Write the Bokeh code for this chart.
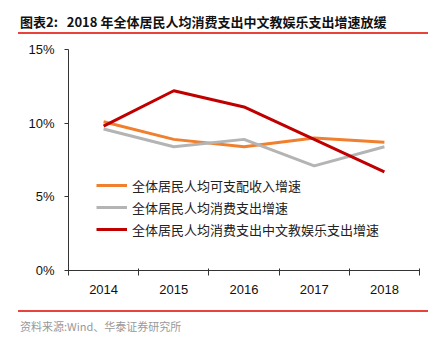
from bokeh.plotting import figure
from bokeh.models import Range1d, FixedTicker, Legend, LegendItem, Div
from bokeh.layouts import column
from bokeh.embed import file_html
from bokeh.resources import INLINE

years = ["2014", "2015", "2016", "2017", "2018"]
income = [10.1, 8.9, 8.4, 9.0, 8.7]
consumption = [9.6, 8.4, 8.9, 7.1, 8.4]
culture = [9.8, 12.2, 11.1, 8.9, 6.7]
names = ["全体居民人均可支配收入增速", "全体居民人均消费支出增速", "全体居民人均消费支出中文教娱乐支出增速"]
colors = ["#F07F2E", "#B4B4B4", "#C00000"]
y_ticks = [0, 5, 10, 15]
title_text = "图表2:&nbsp;&nbsp;&nbsp;2018 年全体居民人均消费支出中文教娱乐支出增速放缓"
source_text = "资料来源:Wind、华泰证券研究所"

xs = [i + 0.5 for i in range(len(years))]

p = figure(width=439, height=276, output_backend="svg", toolbar_location=None,
           x_range=Range1d(0, 5), y_range=Range1d(0, 15),
           min_border_left=68, min_border_right=20, min_border_top=15, min_border_bottom=40,
           margin=0)
p.outline_line_color = None
p.grid.grid_line_color = None
p.background_fill_color = "white"
p.border_fill_color = "white"

items = []
for vals, name, c in zip([income, consumption, culture], names, colors):
    r = p.line(xs, vals, line_color=c, line_width=3)
    items.append(LegendItem(label=name, renderers=[r]))

leg = Legend(items=items, location=(28, 31), background_fill_alpha=0, border_line_color=None,
             label_text_font="Noto Sans CJK SC", label_text_font_size="13px", label_text_color="#222222",
             glyph_width=31, glyph_height=20, label_height=20, spacing=2, padding=0, margin=0,
             label_standoff=5)
p.add_layout(leg, "center")

p.xaxis.ticker = FixedTicker(ticks=xs, minor_ticks=[0, 1, 2, 3, 4, 5])
p.xaxis.major_label_overrides = {x: y for x, y in zip(xs, years)}
p.xaxis.major_tick_line_color = None
p.xaxis.minor_tick_in = 2
p.xaxis.minor_tick_out = 5
p.xaxis.minor_tick_line_color = "#333333"
p.xaxis.axis_line_color = "#333333"
p.xaxis.major_label_text_font = "Liberation Sans"
p.xaxis.major_label_text_font_size = "13px"
p.xaxis.major_label_text_color = "#111111"
p.xaxis.major_label_standoff = 8

p.yaxis.ticker = FixedTicker(ticks=y_ticks)
p.yaxis.major_label_overrides = {t: f"{t}%" for t in y_ticks}
p.yaxis.minor_tick_line_color = None
p.yaxis.major_tick_in = 0
p.yaxis.major_tick_out = 4
p.yaxis.major_tick_line_color = "#333333"
p.yaxis.axis_line_color = "#333333"
p.yaxis.major_label_text_font = "Liberation Sans"
p.yaxis.major_label_text_font_size = "13px"
p.yaxis.major_label_text_color = "#111111"
p.yaxis.major_label_standoff = 10

head = Div(width=439, height=34, margin=0, text=(
    '<div style="margin-left:18px;width:410px;height:34px;box-sizing:border-box;'
    'border-bottom:2px solid #E8433A;padding-top:14px;padding-left:2px;'
    'font-family:\'Noto Sans CJK SC\';font-size:13px;font-weight:bold;line-height:16px;color:#111111;'
    'white-space:nowrap;">' + title_text + '</div>'))
foot = Div(width=439, height=42, margin=0, text=(
    '<div style="margin-left:18px;width:410px;height:42px;box-sizing:border-box;'
    'border-top:2px solid #E8433A;padding-top:7px;padding-left:2px;'
    'font-family:\'Noto Sans CJK SC\';font-size:11px;line-height:14px;color:#999999;'
    'white-space:nowrap;">' + source_text + '</div>'))

layout = column(head, p, foot, spacing=0, margin=0)
open("out.html", "w").write(file_html(layout, INLINE))
